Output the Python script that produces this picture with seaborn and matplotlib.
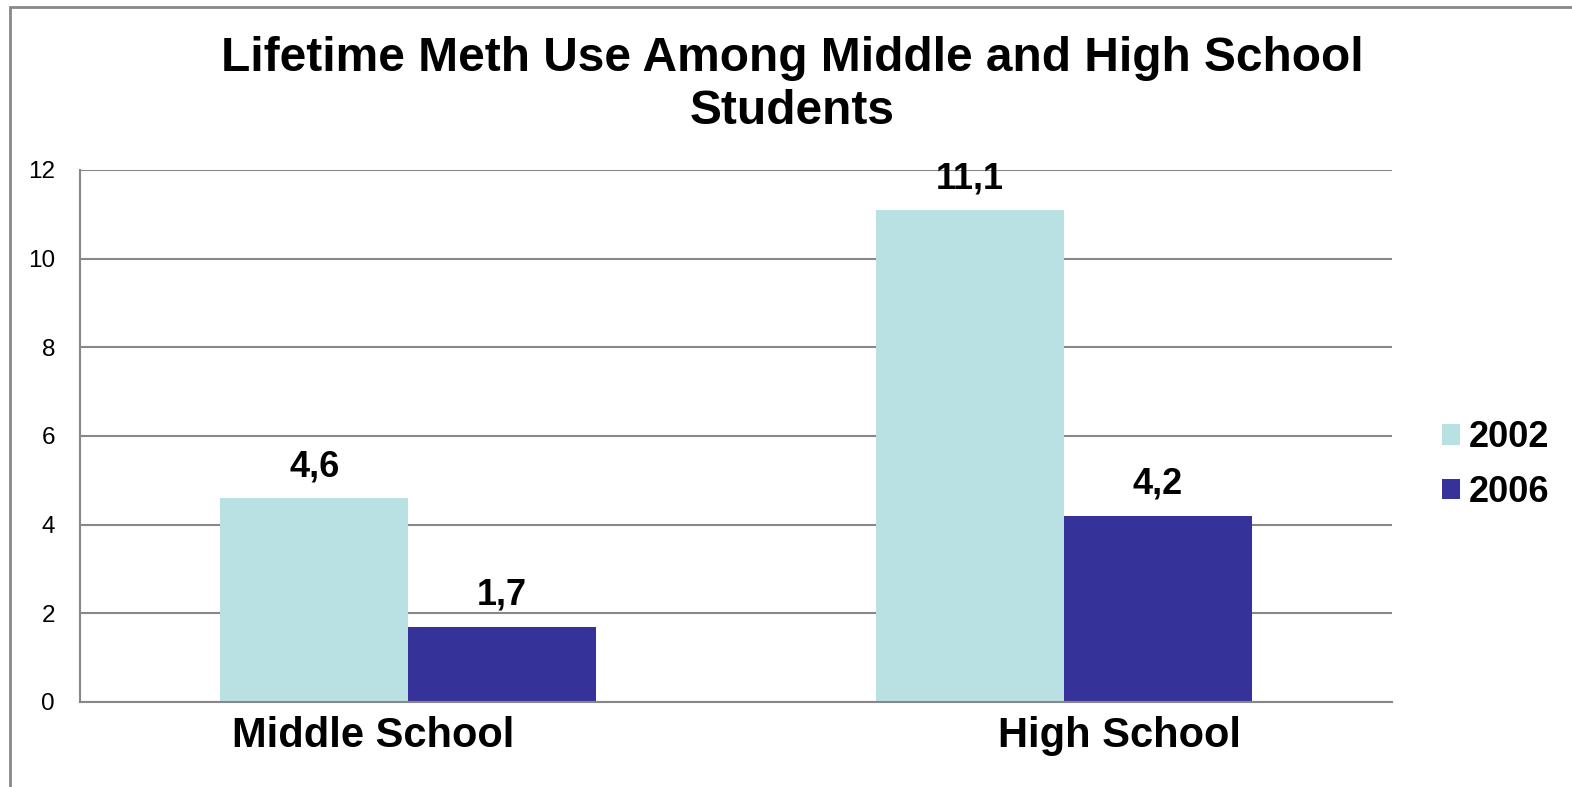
import matplotlib
matplotlib.use("Agg")
import matplotlib.pyplot as plt
import matplotlib.transforms as mtransforms
from matplotlib.patches import Rectangle, Patch
import seaborn as sns
import pandas as pd

categories = ["Middle School", "High School"]
years = ["2002", "2006"]
values_2002 = [4.6, 11.1]
values_2006 = [1.7, 4.2]
yticks = [0, 2, 4, 6, 8, 10, 12]
title = "Lifetime Meth Use Among Middle and High School\nStudents"
colors = ["#B9E0E3", "#353399"]

df = pd.DataFrame({
    "category": categories * 2,
    "year": [years[0]] * 2 + [years[1]] * 2,
    "value": values_2002 + values_2006,
})

sns.set_theme(style="white")
plt.rcParams["font.family"] = ["Liberation Sans", "DejaVu Sans"]
plt.rcParams["text.color"] = "black"
plt.rcParams["xtick.color"] = "black"
plt.rcParams["ytick.color"] = "black"

W, H = 1572, 787
fig = plt.figure(figsize=(W / 100, H / 100), dpi=100)
ax = fig.add_axes([80 / W, 1 - 702 / H, (1392 - 80) / W, (702 - 170) / H])

sns.barplot(data=df, x="category", y="value", hue="year", order=categories,
            hue_order=years, palette=colors, width=0.572, saturation=1,
            gap=0, legend=False, ax=ax, errorbar=None, linewidth=0)

ax.set_ylim(0, 12)
ax.set_xlim(-0.5, 1.5)
ax.set_yticks(yticks)
ax.set_yticklabels([str(t) for t in yticks], fontsize=17.5, color="black")
ax.set_xlabel("")
ax.set_ylabel("")
ax.yaxis.grid(True, color="#888888", linewidth=1.5)
ax.set_axisbelow(True)
for s in ["top", "right"]:
    ax.spines[s].set_visible(False)
for s in ["left", "bottom"]:
    ax.spines[s].set_color("#888888")
    ax.spines[s].set_linewidth(1.5)
ax.tick_params(axis="both", length=0)
ax.tick_params(axis="y", pad=18)
ax.tick_params(axis="x", pad=10)
for lbl in ax.get_xticklabels():
    lbl.set_fontsize(30)
    lbl.set_fontweight("bold")
    lbl.set_color("black")
offsets = [-35, 55]
for lbl, dx in zip(ax.get_xticklabels(), offsets):
    lbl.set_transform(lbl.get_transform() + mtransforms.ScaledTranslation(dx / 100, 0, fig.dpi_scale_trans))

for cont in ax.containers:
    labels = [f"{b.get_height():.1f}".replace(".", ",") for b in cont]
    ax.bar_label(cont, labels=labels, padding=10, fontsize=26, fontweight="bold", color="black")

fig.text(792 / W, 1 - 36 / H, title, ha="center", va="top", fontsize=34.5,
         fontweight="bold", linespacing=1.22, color="black")

handles = [Patch(facecolor=c, edgecolor="none") for c in colors]
fig.legend(handles, years, loc="center left", bbox_to_anchor=(1442 / W, 1 - 465 / H),
           frameon=False, prop={"size": 26, "weight": "bold"}, handlelength=0.5,
           handleheight=0.5, handletextpad=0.25, labelspacing=0.55, borderpad=0,
           borderaxespad=0)

fig.add_artist(Rectangle((10 / W, -0.01), 1.0, 1 - 7 / H + 0.01, transform=fig.transFigure,
                         fill=False, edgecolor="#888888", linewidth=2))

fig.savefig("out.png", dpi=100)
